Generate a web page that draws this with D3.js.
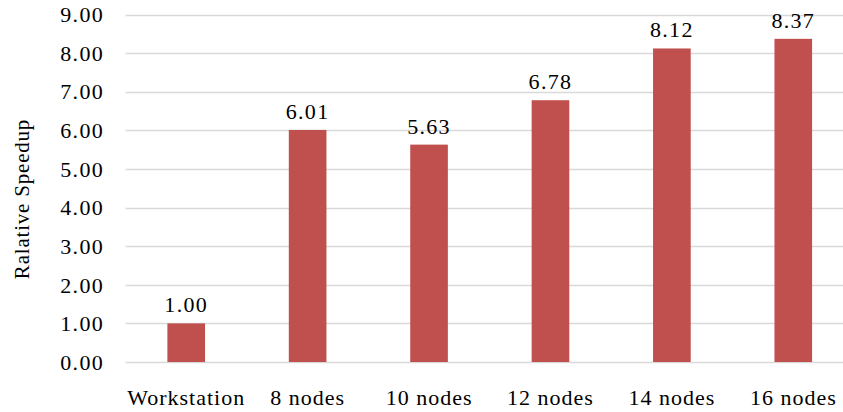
<!DOCTYPE html>
<html><head><meta charset="utf-8">
<script src="https://cdn.jsdelivr.net/npm/d3@7"></script>
</head>
<body style="margin:0">
<svg id="viz" width="843" height="412"></svg>
<script>
const categories = ["Workstation","8 nodes","10 nodes","12 nodes","14 nodes","16 nodes"];
const speedups = [1.00, 6.01, 5.63, 6.78, 8.12, 8.37];
const yTicks = [0,1,2,3,4,5,6,7,8,9];
const yTitle = "Ralative Speedup";

const FONT = '"Liberation Serif", "Times New Roman", Tinos, serif';
const svg = d3.select("#viz");
const W = 843;
const x = d3.scaleBand().domain(categories).range([125.5, 854]).paddingInner(0.69).paddingOuter(0.345);
const y = d3.scaleLinear().domain([0,9]).range([362, 14.5]);

svg.append("g").selectAll("line").data(yTicks).join("line")
  .attr("x1",125.5).attr("x2",W)
  .attr("y1",d=>Math.round(y(d))+0.5).attr("y2",d=>Math.round(y(d))+0.5)
  .attr("stroke","#d9d9d9").attr("stroke-width",1.3);

const yAxis = d3.axisLeft(y).tickValues(yTicks).tickFormat(d3.format(".2f")).tickSize(0).tickPadding(0);
const ya = svg.append("g").attr("transform","translate(104,0)").call(yAxis);
ya.select(".domain").remove();
ya.selectAll("text").style("font-family",FONT).attr("font-size",22).style("letter-spacing","1.3px").attr("fill","#000").attr("dy","0.33em");

const xAxis = d3.axisBottom(x).tickSize(0).tickPadding(0);
const xa = svg.append("g").attr("transform","translate(0,405)").call(xAxis);
xa.select(".domain").remove();
xa.selectAll("text").style("font-family",FONT).attr("font-size",22).style("letter-spacing","1px").attr("fill","#000").attr("dy","0");

svg.append("g").selectAll("rect").data(categories).join("rect")
  .attr("x",d=>x(d)).attr("width",x.bandwidth())
  .attr("y",(d,i)=>y(speedups[i])).attr("height",(d,i)=>y(0)-y(speedups[i]))
  .attr("fill","#c0504d");

svg.append("g").selectAll("text").data(categories).join("text")
  .attr("x",d=>x(d)+x.bandwidth()/2).attr("y",(d,i)=>y(speedups[i])-11)
  .attr("text-anchor","middle").attr("fill","#000")
  .style("font-family",FONT).attr("font-size",22).style("letter-spacing","1.3px")
  .text((d,i)=>speedups[i].toFixed(2));

svg.append("text").attr("transform","translate(29,199) rotate(-90)")
  .attr("text-anchor","middle").attr("fill","#000")
  .style("font-family",FONT).attr("font-size",21).style("letter-spacing","0.8px").text(yTitle);
</script>
</body></html>
